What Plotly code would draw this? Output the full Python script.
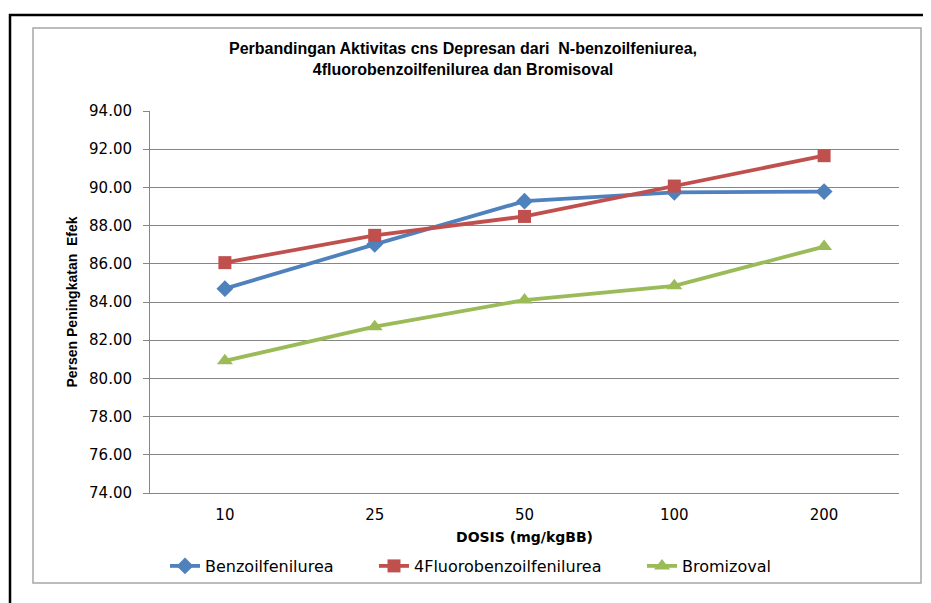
import plotly.graph_objects as go

categories = ["10", "25", "50", "100", "200"]
benzoil = [84.70, 87.02, 89.28, 89.74, 89.78]
fluoro = [86.06, 87.49, 88.48, 90.07, 91.66]
bromizoval = [80.92, 82.71, 84.10, 84.85, 86.90]
y_ticks = [74, 76, 78, 80, 82, 84, 86, 88, 90, 92, 94]

OFF = 8  # default page margin of the html body
W, H = 931 - OFF, 603 - OFF
L, R, T, B = 150 - OFF, 899 - OFF, 111 - OFF, 493 - OFF


def px_x(p):
    return (p - OFF - L) / (R - L)


def px_y(p):
    return (B - (p - OFF)) / (B - T)


fig = go.Figure()
fig.add_trace(go.Scatter(x=categories, y=benzoil, name="Benzoilfenilurea", mode="lines+markers",
                         line=dict(color="#4F81BD", width=3.8),
                         marker=dict(symbol="diamond", size=13, color="#4F81BD"),
                         legend="legend"))
fig.add_trace(go.Scatter(x=categories, y=fluoro, name="4Fluorobenzoilfenilurea", mode="lines+markers",
                         line=dict(color="#C0504D", width=3.8),
                         marker=dict(symbol="square", size=13, color="#C0504D"),
                         legend="legend2"))
fig.add_trace(go.Scatter(x=categories, y=bromizoval, name="Bromizoval", mode="lines+markers",
                         line=dict(color="#9BBB59", width=3.8),
                         marker=dict(symbol="triangle-up", size=14, color="#9BBB59"),
                         legend="legend3"))

leg_common = dict(orientation="h", xanchor="left", y=px_y(566), yanchor="middle",
                  font=dict(family="DejaVu Sans", size=16, color="black"),
                  bgcolor="rgba(0,0,0,0)", itemwidth=30)

fig.update_layout(
    width=W, height=H,
    margin=dict(l=L, r=W - R, t=T, b=H - B),
    paper_bgcolor="white", plot_bgcolor="white",
    font=dict(family="DejaVu Sans", size=15, color="black"),
    title=dict(text="Perbandingan Aktivitas cns Depresan dari  N-benzoilfeniurea,<br>4fluorobenzoilfenilurea dan Bromisoval",
               x=(463 - OFF) / W, xanchor="center", y=1 - 46 / H, yanchor="middle",
               font=dict(family="Liberation Sans Narrow, Liberation Sans", size=16, color="black",
                         weight="bold")),
    xaxis=dict(type="category", showgrid=False, showline=True, linecolor="#868686", linewidth=1,
               ticks="", tickfont=dict(size=15), ticklabelstandoff=8,
               title=dict(text="<b>DOSIS (mg/kgBB)</b>", font=dict(family="DejaVu Sans", size=14),
                          standoff=9),
               range=[-0.5, 4.5]),
    yaxis=dict(range=[74, 94], tickvals=y_ticks, tickformat=".2f", showgrid=True,
               gridcolor="#868686", gridwidth=1, showline=True, linecolor="#868686", linewidth=1,
               ticks="outside", ticklen=6, tickcolor="#868686", tickfont=dict(size=15),
               ticklabelstandoff=8, zeroline=False,
               title=dict(text="Persen Peningkatan  Efek",
                          font=dict(family="Liberation Sans Narrow, Liberation Sans", size=14,
                                    weight="bold"),
                          standoff=8)),
    legend=dict(x=px_x(165), **leg_common),
    legend2=dict(x=px_x(374), **leg_common),
    legend3=dict(x=px_x(642), **leg_common),
    showlegend=True,
)

fig.add_shape(type="rect", xref="paper", yref="paper",
              x0=px_x(10), y0=px_y(15), x1=px_x(950), y1=px_y(640),
              line=dict(color="black", width=2.5), fillcolor="rgba(0,0,0,0)", layer="below")
fig.add_shape(type="rect", xref="paper", yref="paper",
              x0=px_x(33), y0=px_y(28), x1=px_x(921), y1=px_y(583),
              line=dict(color="#A6A6A6", width=1.5), fillcolor="rgba(0,0,0,0)", layer="below")

fig.write_html("out.html")
